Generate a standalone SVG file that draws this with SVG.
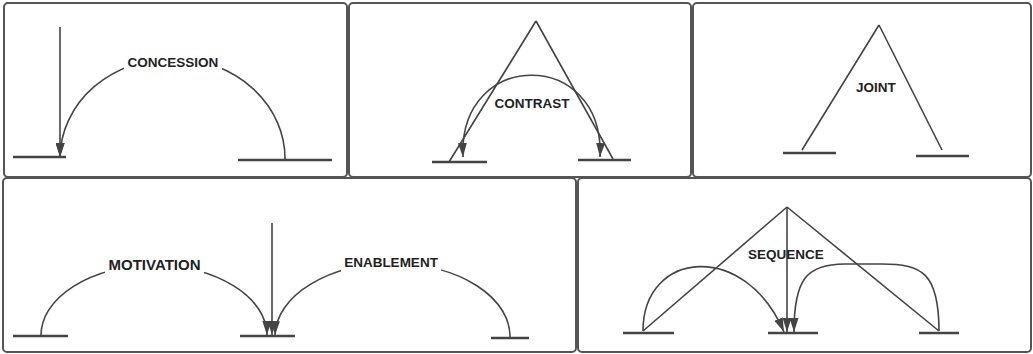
<svg xmlns="http://www.w3.org/2000/svg" width="1033" height="354" viewBox="0 0 1033 354">
<style>
.panel{fill:#fff;stroke:#555;stroke-width:2}
.bar{stroke:#444;stroke-width:2.6;fill:none}
.ln{stroke:#444;stroke-width:1.6;fill:none}
.lbl{font-family:"Liberation Sans",Arial,sans-serif;font-weight:bold;font-size:13.5px;fill:#222;text-anchor:middle}
.bg{fill:#fff}
</style>
<defs>
<marker id="arr" viewBox="0 0 14 9" markerWidth="14" markerHeight="9" refX="14" refY="4.5" orient="auto-start-reverse" markerUnits="userSpaceOnUse">
<path d="M0,0 L14,4.5 L0,9 z" fill="#444"/>
</marker>
</defs>
<rect width="1033" height="354" fill="#fff"/>
<g id="panels">
<rect id="panel-concession" class="panel" x="4" y="3" width="343" height="174" rx="4"/>
<rect id="panel-contrast" class="panel" x="349" y="3" width="342" height="174" rx="4"/>
<rect id="panel-joint" class="panel" x="693" y="3" width="338" height="174" rx="4"/>
<rect id="panel-motivation" class="panel" x="3" y="178" width="573" height="174" rx="4"/>
<rect id="panel-sequence" class="panel" x="578" y="178" width="453" height="174" rx="4"/>
</g>
<g id="nodes">
<g id="concession-nucleus"><line class="bar" x1="13" y1="157" x2="66" y2="157"/></g>
<g id="concession-satellite"><line class="bar" x1="238" y1="160" x2="332" y2="160"/></g>
<g id="contrast-left"><line class="bar" x1="432" y1="162" x2="487" y2="162"/></g>
<g id="contrast-right"><line class="bar" x1="578" y1="160" x2="631" y2="160"/></g>
<g id="joint-left"><line class="bar" x1="783" y1="153" x2="836" y2="153"/></g>
<g id="joint-right"><line class="bar" x1="916" y1="156" x2="969" y2="156"/></g>
<g id="motivation-satellite"><line class="bar" x1="13" y1="336" x2="68" y2="336"/></g>
<g id="motivation-nucleus"><line class="bar" x1="240" y1="336" x2="295" y2="336"/></g>
<g id="enablement-satellite"><line class="bar" x1="491" y1="338" x2="529" y2="338"/></g>
<g id="sequence-1"><line class="bar" x1="623" y1="333" x2="674" y2="333"/></g>
<g id="sequence-2"><line class="bar" x1="768" y1="333" x2="818" y2="333"/></g>
<g id="sequence-3"><line class="bar" x1="919" y1="333" x2="959" y2="333"/></g>
</g>
<g id="connectors">
<line class="ln" x1="60" y1="27" x2="60" y2="157" marker-end="url(#arr)"/>
<path class="ln" d="M285,160 A112.5,100 0 0 0 60,157" marker-end="url(#arr)"/>
<path class="ln" d="M536,21 L449,162 M536,21 L613,159"/>
<path class="ln" d="M463,157 C458,48 605,48 600,157" marker-start="url(#arr)" marker-end="url(#arr)"/>
<path class="ln" d="M879,25 L802,150 M879,25 L942,150"/>
<line class="ln" x1="272" y1="223" x2="272" y2="335" marker-end="url(#arr)"/>
<path class="ln" d="M41,336 A113,70 0 0 1 267,335" marker-end="url(#arr)"/>
<path class="ln" d="M510,338 A117.5,73 0 0 0 275,335" marker-end="url(#arr)"/>
<path class="ln" d="M787,207 L643,331 M787,207 L939,331"/>
<line class="ln" x1="787" y1="207" x2="787" y2="332" marker-end="url(#arr)"/>
<path class="ln" d="M643,331 C643,250 745,240 784,332" marker-end="url(#arr)"/>
<path class="ln" d="M939,331 C939,272 921,264 882,264 L845,264 C806,264 794,280 794,332" marker-end="url(#arr)"/>
</g>
<g id="labels">
<rect class="bg" x="124" y="52" width="98" height="21"/>
<text class="lbl" x="173" y="67">CONCESSION</text>
<text class="lbl" x="532" y="108">CONTRAST</text>
<text class="lbl" x="876" y="92">JOINT</text>
<rect class="bg" x="105" y="255" width="99" height="19"/>
<text class="lbl" x="154.5" y="270" style="font-size:15px">MOTIVATION</text>
<rect class="bg" x="341" y="252" width="100" height="20"/>
<text class="lbl" x="391" y="267">ENABLEMENT</text>
<text class="lbl" x="786" y="259">SEQUENCE</text>
</g>
</svg>
